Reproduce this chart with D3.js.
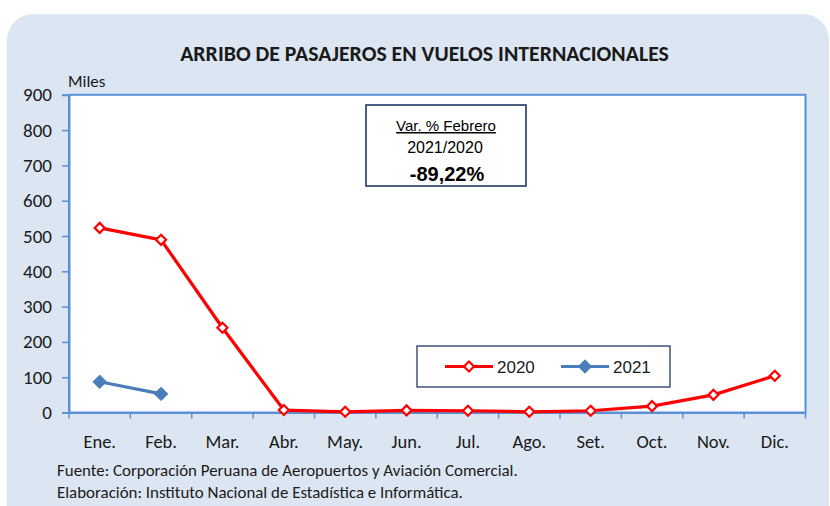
<!DOCTYPE html>
<html>
<head>
<meta charset="utf-8">
<script src="https://cdn.jsdelivr.net/npm/d3@7"></script>
<style>
  html, body { margin: 0; padding: 0; background: #ffffff; }
  svg { display: block; }
</style>
</head>
<body>
<svg id="chart" width="830" height="506"></svg>
<script>
// Monthly arrivals of passengers on international flights (thousands)
const months = ["Ene.", "Feb.", "Mar.", "Abr.", "May.", "Jun.", "Jul.", "Ago.", "Set.", "Oct.", "Nov.", "Dic."];
const values2020 = [523, 489.2, 240, 7, 2, 6, 5, 2, 5, 18, 50, 104];
const values2021 = [87, 52.7];
const yTicks = [0, 100, 200, 300, 400, 500, 600, 700, 800, 900];
const seriesNames = ["2020", "2021"];
const titleText = "ARRIBO DE PASAJEROS EN VUELOS INTERNACIONALES";
const noteLines = ["Var. % Febrero", "2021/2020", "-89,22%"];
const sourceLines = [
  "Fuente: Corporación Peruana de Aeropuertos y Aviación Comercial.",
  "Elaboración: Instituto Nacional de Estadística e Informática."
];

const calibri = "Carlito, 'Liberation Sans Narrow', 'Open Sans', sans-serif";
const arial = "'Liberation Sans', Arial, sans-serif";
const axisBlue = "#5b8fd6";
const red = "#ff0000";
const blue = "#4a7ebb";
const ink = "#1a1a1a";

const svg = d3.select("#chart");

// Panel background
svg.append("rect")
  .attr("x", 7).attr("y", 14)
  .attr("width", 822).attr("height", 530)
  .attr("rx", 26).attr("ry", 26)
  .attr("fill", "#dce6f2");

const plot = { left: 69, right: 805.5, top: 94.8, bottom: 412.5 };

const x = d3.scaleBand().domain(months).range([plot.left, plot.right]).paddingInner(0).paddingOuter(0);
const y = d3.scaleLinear().domain([0, 900]).range([plot.bottom, plot.top]);

// Plot area
svg.append("rect")
  .attr("x", plot.left).attr("y", plot.top)
  .attr("width", plot.right - plot.left).attr("height", plot.bottom - plot.top)
  .attr("fill", "#ffffff")
  .attr("stroke", axisBlue).attr("stroke-width", 2);

// Title
svg.append("text")
  .attr("x", 424.5).attr("y", 61)
  .attr("text-anchor", "middle")
  .attr("font-family", calibri).attr("font-weight", "bold")
  .attr("font-size", 21.8).attr("fill", ink)
  .text(titleText);

svg.append("text")
  .attr("x", 68).attr("y", 87)
  .attr("font-family", calibri).attr("font-size", 17).attr("fill", ink)
  .text("Miles");

// Y axis
const yAxis = svg.append("g")
  .attr("transform", `translate(${plot.left},0)`)
  .call(d3.axisLeft(y).tickValues(yTicks).tickSize(7).tickPadding(10).tickFormat(d3.format("d")));
yAxis.select(".domain").attr("stroke", axisBlue).attr("stroke-width", 2);
yAxis.selectAll(".tick line").attr("stroke", axisBlue).attr("stroke-width", 1.5);
yAxis.selectAll(".tick text")
  .attr("font-family", calibri).attr("font-size", 19).attr("fill", ink);

// X axis with tick marks on category boundaries
const xAxis = svg.append("g")
  .attr("transform", `translate(0,${plot.bottom})`)
  .call(d3.axisBottom(x).tickSize(0).tickPadding(22));
xAxis.select(".domain").attr("stroke", axisBlue).attr("stroke-width", 2);
xAxis.selectAll(".tick text")
  .attr("font-family", calibri).attr("font-size", 18.5).attr("fill", ink);
const bounds = months.map(m => x(m)).concat([x(months[months.length - 1]) + x.bandwidth()]);
xAxis.selectAll("line.bound").data(bounds).enter().append("line")
  .attr("class", "bound")
  .attr("x1", d => d).attr("x2", d => d)
  .attr("y1", 0).attr("y2", 6)
  .attr("stroke", axisBlue).attr("stroke-width", 1.5);

const cx = i => x(months[i]) + x.bandwidth() / 2;
const line = d3.line().x((d, i) => cx(i)).y(d => y(d));
const diamond = d3.symbol().type(d3.symbolDiamond2);

// 2020 series
svg.append("path").datum(values2020)
  .attr("d", line).attr("fill", "none")
  .attr("stroke", red).attr("stroke-width", 3.2).attr("stroke-linejoin", "round");
svg.selectAll("path.m2020").data(values2020).enter().append("path")
  .attr("class", "m2020")
  .attr("d", diamond.size(64))
  .attr("transform", (d, i) => `translate(${cx(i)},${y(d)})`)
  .attr("fill", "#ffffff").attr("stroke", red).attr("stroke-width", 2.2);

// 2021 series
svg.append("path").datum(values2021)
  .attr("d", line).attr("fill", "none")
  .attr("stroke", blue).attr("stroke-width", 3.2).attr("stroke-linejoin", "round");
svg.selectAll("path.m2021").data(values2021).enter().append("path")
  .attr("class", "m2021")
  .attr("d", diamond.size(115))
  .attr("transform", (d, i) => `translate(${cx(i)},${y(d)})`)
  .attr("fill", blue).attr("stroke", blue).attr("stroke-width", 1);

// Variation note
const note = svg.append("g");
note.append("rect")
  .attr("x", 366).attr("y", 105).attr("width", 160).attr("height", 81)
  .attr("fill", "#ffffff").attr("stroke", "#1f3864").attr("stroke-width", 1.6);
note.append("text")
  .attr("x", 446).attr("y", 131).attr("text-anchor", "middle")
  .attr("font-family", arial).attr("font-size", 15).attr("fill", "#000")
  .attr("text-decoration", "underline")
  .text(noteLines[0]);
note.append("text")
  .attr("x", 445).attr("y", 153).attr("text-anchor", "middle")
  .attr("font-family", arial).attr("font-size", 16).attr("fill", "#000")
  .text(noteLines[1]);
note.append("text")
  .attr("x", 447).attr("y", 180.5).attr("text-anchor", "middle")
  .attr("font-family", arial).attr("font-size", 20).attr("font-weight", "bold").attr("fill", "#000")
  .text(noteLines[2]);

// Legend
const legend = svg.append("g");
legend.append("rect")
  .attr("x", 417).attr("y", 346).attr("width", 253).attr("height", 41)
  .attr("fill", "#ffffff").attr("stroke", "#1f3864").attr("stroke-width", 1.3);
const legendItems = [
  { name: seriesNames[0], color: red, x0: 445, fill: "#ffffff", size: 64 },
  { name: seriesNames[1], color: blue, x0: 561, fill: blue, size: 115 }
];
legendItems.forEach(it => {
  legend.append("line")
    .attr("x1", it.x0).attr("x2", it.x0 + 48).attr("y1", 366.5).attr("y2", 366.5)
    .attr("stroke", it.color).attr("stroke-width", 3.2);
  legend.append("path")
    .attr("d", diamond.size(it.size))
    .attr("transform", `translate(${it.x0 + 24},366.5)`)
    .attr("fill", it.fill).attr("stroke", it.color).attr("stroke-width", it.fill === "#ffffff" ? 2.2 : 1);
  legend.append("text")
    .attr("x", it.x0 + 52).attr("y", 373)
    .attr("font-family", arial).attr("font-size", 17).attr("fill", ink)
    .text(it.name);
});

// Source lines
sourceLines.forEach((t, i) => {
  svg.append("text")
    .attr("x", 57).attr("y", 475.5 + i * 22.5)
    .attr("font-family", calibri).attr("font-size", 16.9).attr("fill", ink)
    .text(t);
});
</script>
</body>
</html>
